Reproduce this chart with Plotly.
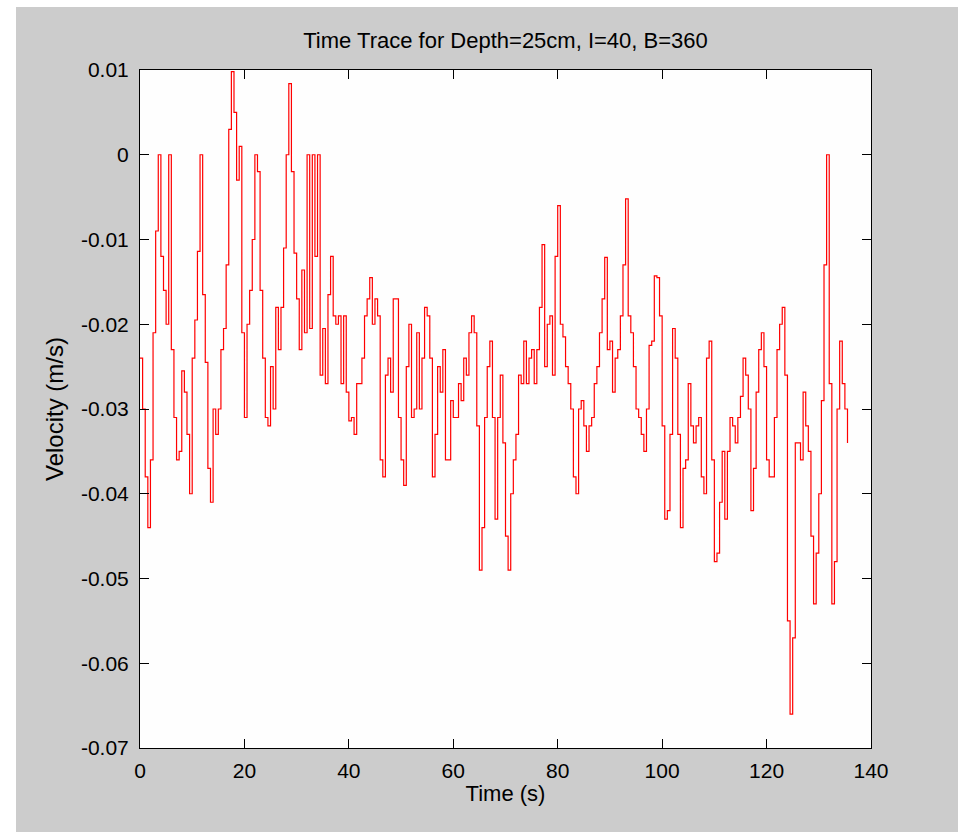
import plotly.graph_objects as go

# ---------------- data ----------------
SAMPLE_INTERVAL_S = 0.5

velocity = [
    -0.024, -0.030, -0.038, -0.044, -0.036, -0.021, -0.009, 0.000, -0.012, -0.016,   # 0-4.5 s
    -0.020, 0.000, -0.023, -0.031, -0.036, -0.035, -0.0255, -0.028, -0.033, -0.040,  # 5-9.5
    -0.024, -0.0195, -0.0114, 0.000, -0.0165, -0.0245, -0.037, -0.041, -0.030, -0.033,  # 10-14.5
    -0.030, -0.023, -0.0205, -0.013, 0.003, 0.0098, 0.005, -0.003, 0.001, -0.021,   # 15-19.5
    -0.031, -0.020, -0.016, -0.010, 0.000, -0.002, -0.016, -0.024, -0.031, -0.032,  # 20-24.5
    -0.025, -0.030, -0.018, -0.023, -0.018, -0.011, 0.000, 0.0084, -0.002, -0.0116,  # 25-29.5
    -0.017, -0.023, -0.0136, -0.021, 0.000, -0.0205, 0.000, -0.012, 0.000, -0.026,  # 30-34.5
    -0.0205, -0.027, -0.0165, -0.012, -0.019, -0.020, -0.019, -0.027, -0.019, -0.028,  # 35-39.5
    -0.0314, -0.031, -0.033, -0.027, -0.027, -0.024, -0.019, -0.017, -0.0145, -0.020,  # 40-44.5
    -0.017, -0.019, -0.036, -0.038, -0.026, -0.024, -0.028, -0.017, -0.017, -0.031,  # 45-49.5
    -0.036, -0.039, -0.025, -0.020, -0.031, -0.030, -0.021, -0.030, -0.024, -0.018,  # 50-54.5
    -0.019, -0.024, -0.038, -0.033, -0.025, -0.028, -0.023, -0.036, -0.036, -0.029,  # 55-59.5
    -0.031, -0.031, -0.027, -0.029, -0.024, -0.026, -0.021, -0.019, -0.021, -0.032,  # 60-64.5
    -0.049, -0.044, -0.031, -0.025, -0.022, -0.031, -0.043, -0.031, -0.026, -0.034,  # 65-69.5
    -0.045, -0.049, -0.040, -0.036, -0.033, -0.026, -0.027, -0.022, -0.027, -0.024,  # 70-74.5
    -0.023, -0.027, -0.023, -0.018, -0.0106, -0.025, -0.020, -0.019, -0.026, -0.012,  # 75-79.5
    -0.006, -0.020, -0.0215, -0.025, -0.027, -0.030, -0.038, -0.040, -0.030, -0.029,  # 80-84.5
    -0.032, -0.035, -0.032, -0.031, -0.027, -0.025, -0.021, -0.017, -0.0121, -0.023,  # 85-89.5
    -0.022, -0.028, -0.024, -0.023, -0.019, -0.013, -0.0052, -0.019, -0.021, -0.025,  # 90-94.5
    -0.030, -0.031, -0.033, -0.035, -0.030, -0.0225, -0.022, -0.0143, -0.0145, -0.019,  # 95-99.5
    -0.032, -0.043, -0.042, -0.033, -0.0205, -0.024, -0.033, -0.044, -0.037, -0.036,  # 100-104.5
    -0.027, -0.032, -0.034, -0.032, -0.031, -0.038, -0.040, -0.024, -0.022, -0.036,  # 105-109.5
    -0.048, -0.047, -0.041, -0.035, -0.043, -0.035, -0.031, -0.032, -0.034, -0.031,  # 110-114.5
    -0.0285, -0.024, -0.026, -0.030, -0.042, -0.037, -0.028, -0.023, -0.021, -0.025,  # 115-119.5
    -0.036, -0.038, -0.038, -0.031, -0.023, -0.020, -0.018, -0.026, -0.055, -0.066,  # 120-124.5
    -0.057, -0.034, -0.034, -0.036, -0.028, -0.032, -0.035, -0.045, -0.053, -0.047,  # 125-129.5
    -0.040, -0.029, -0.013, 0.000, -0.027, -0.053, -0.048, -0.030, -0.022, -0.027,  # 130-134.5
    -0.030, -0.034,                                                                  # 135-135.5
]
time_s = [i * SAMPLE_INTERVAL_S for i in range(len(velocity))]

X_TICKS = [0, 20, 40, 60, 80, 100, 120, 140]
X_TICK_LABELS = ["0", "20", "40", "60", "80", "100", "120", "140"]
Y_TICKS = [-0.07, -0.06, -0.05, -0.04, -0.03, -0.02, -0.01, 0.0, 0.01]
Y_TICK_LABELS = ["-0.07", "-0.06", "-0.05", "-0.04", "-0.03", "-0.02", "-0.01", "0", "0.01"]

TITLE = "Time Trace for Depth=25cm, I=40, B=360"
X_TITLE = "Time (s)"
Y_TITLE = "Velocity (m/s)"

# ---------------- figure ----------------
W, H = 965, 835
ML, MR, MT, MB = 140, 94, 70, 87
PW, PH = W - ML - MR, H - MT - MB
FONT = "Liberation Sans, Arial, sans-serif"


def px_x(px):
    return (px - ML) / PW


def px_y(py):
    return (H - MB - py) / PH


fig = go.Figure()
fig.add_trace(go.Scatter(
    x=time_s, y=velocity, mode="lines",
    line=dict(color="#ff0000", width=1.2, shape="hv"),
    showlegend=False, hoverinfo="x+y",
))

axis_common = dict(
    showgrid=False, zeroline=False, showline=True, linecolor="black", linewidth=1,
    mirror="ticks", ticks="inside", ticklen=9, tickcolor="black", tickwidth=1,
    tickfont=dict(family=FONT, size=21, color="black"),
)

fig.update_layout(
    width=W, height=H,
    margin=dict(l=ML, r=MR, t=MT, b=MB, autoexpand=False),
    paper_bgcolor="white", plot_bgcolor="white",
    font=dict(family=FONT, color="black"),
    title=dict(text=TITLE, x=0.5, xref="paper", xanchor="center",
               y=1 - 40 / H, yref="container", yanchor="middle",
               font=dict(family=FONT, size=22, color="black")),
    xaxis=dict(range=[0, 140], tickvals=X_TICKS, ticktext=X_TICK_LABELS,
               title=dict(text=X_TITLE, standoff=4,
                          font=dict(family=FONT, size=22, color="black")),
               ticklabelstandoff=4, **axis_common),
    yaxis=dict(range=[-0.07, 0.01], tickvals=Y_TICKS, ticktext=Y_TICK_LABELS,
               title=dict(text=Y_TITLE, standoff=10,
                          font=dict(family=FONT, size=24, color="black")),
               ticklabelstandoff=6, **axis_common),
    shapes=[
        dict(type="rect", xref="paper", yref="paper", layer="below",
             x0=px_x(16), x1=px_x(958), y0=px_y(832), y1=px_y(7),
             fillcolor="#cccccc", line=dict(width=0)),
        dict(type="rect", xref="paper", yref="paper", layer="below",
             x0=0, x1=1, y0=0, y1=1, fillcolor="#fefefe", line=dict(width=0)),
    ],
)

fig.write_html("out.html")
